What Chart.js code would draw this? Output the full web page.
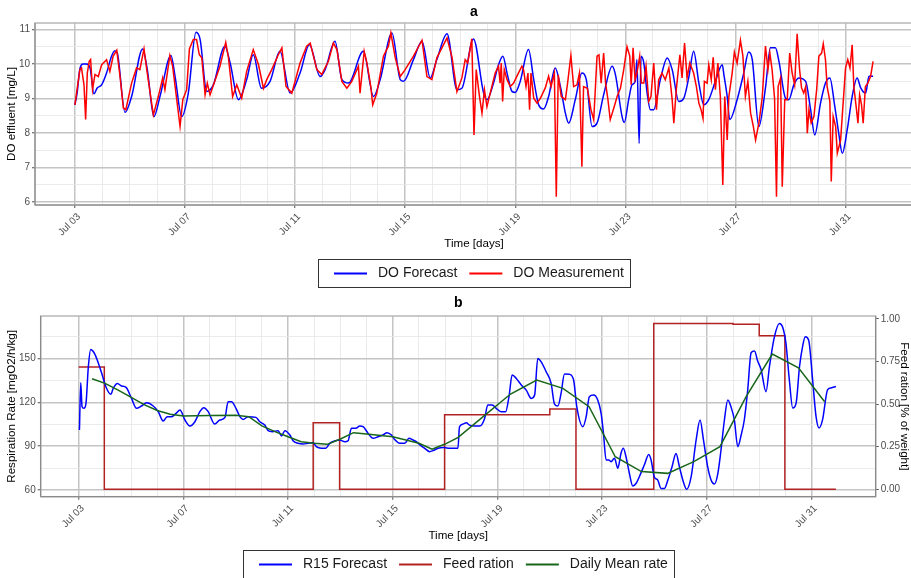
<!DOCTYPE html>
<html>
<head>
<meta charset="utf-8">
<script src="https://cdn.jsdelivr.net/npm/chart.js@4.4.1/dist/chart.umd.min.js"></script>
<style>
  html, body { margin: 0; padding: 0; background: #fff; width: 911px; height: 578px; overflow: hidden; }
  #wrapA { position: absolute; left: 0; top: 0; }
  #wrapB { position: absolute; left: 0; top: 290px; }
</style>
</head>
<body>
<div id="wrapA"><canvas id="chartA" width="913" height="290"></canvas></div>
<div id="wrapB"><canvas id="chartB" width="911" height="288"></canvas></div>
<script>
const FONT = '"Liberation Sans", Arial, Helvetica, sans-serif';

// time axis: days since Jul 03
const majorDays = [0, 4, 8, 12, 16, 20, 24, 28];
const majorLabels = ['Jul 03', 'Jul 07', 'Jul 11', 'Jul 15', 'Jul 19', 'Jul 23', 'Jul 27', 'Jul 31'];
const gridDays = [0, 1, 2, 3, 4, 5, 6, 7, 8, 9, 10, 11, 12, 13, 14, 15, 16, 17, 18, 19, 20, 21, 22, 23, 24, 25, 26, 27, 28];

// panel a: dissolved oxygen
const doTicks = [6, 7, 8, 9, 10, 11];
const doMinor = [6.5, 7.5, 8.5, 9.5, 10.5];

const forecastDays = [
  0.00, 0.08, 0.18, 0.30, 0.42, 0.55, 0.69, 0.81, 0.97, 1.15,
  1.33, 1.45, 1.54, 1.82, 2.06, 2.46, 2.63, 2.87, 3.09, 3.49,
  3.64, 3.88, 4.12, 4.40, 4.55, 4.79, 5.03, 5.45, 5.64, 5.94,
  6.24, 6.48, 6.78, 7.09, 7.45, 7.82, 8.18, 8.52, 8.91, 9.09,
  9.45, 9.70, 9.94, 10.48, 10.85, 11.09, 11.52, 11.82, 11.94, 12.30,
  12.61, 12.91, 13.15, 13.52, 13.88, 14.06, 14.48, 14.85, 14.97, 15.21,
  15.39, 15.55, 15.70, 15.88, 16.00, 16.18, 16.48, 16.67, 16.85, 17.03,
  17.21, 17.45, 17.64, 17.82, 17.94, 18.18, 18.42, 18.58, 18.79, 18.97,
  19.21, 19.52, 19.64, 19.88, 19.96, 20.12, 20.24, 20.36, 20.42, 20.50,
  20.57, 20.67, 20.79, 20.91, 21.03, 21.27, 21.52, 21.70, 21.94, 22.12,
  22.30, 22.48, 22.67, 22.85, 23.03, 23.27, 23.52, 23.58, 23.70, 23.79,
  24.06, 24.30, 24.48, 24.61, 24.85, 25.09, 25.27, 25.45, 25.58, 25.82,
  25.94, 26.12, 26.30, 26.55, 26.73, 26.88, 27.09, 27.27, 27.43, 27.60,
  27.76, 27.88, 28.06, 28.24, 28.42, 28.55, 28.73, 28.85, 29.00
];
const forecastDO = [
  8.82, 9.16, 9.86, 10.00, 10.00, 9.89, 9.14, 9.31, 9.40, 9.74,
  10.23, 10.39, 10.32, 8.60, 9.06, 10.44, 9.84, 8.48, 9.06, 10.25,
  9.64, 8.48, 9.16, 10.92, 10.71, 9.21, 9.40, 10.52, 10.03, 8.97,
  9.55, 10.27, 9.30, 9.50, 10.37, 9.16, 9.74, 10.56, 9.64, 9.84,
  10.66, 9.55, 9.45, 10.37, 9.06, 9.55, 10.90, 9.55, 9.50, 10.13,
  10.66, 9.60, 10.13, 10.88, 9.26, 9.30, 10.73, 9.16, 8.97, 9.45,
  9.98, 10.23, 9.74, 9.21, 9.18, 9.50, 10.42, 9.55, 8.82, 8.70,
  9.06, 9.89, 9.35, 8.58, 8.29, 8.97, 9.74, 9.55, 8.19, 8.29,
  9.11, 9.94, 9.69, 8.48, 8.31, 8.97, 9.40, 9.50, 10.13, 7.70,
  10.23, 10.03, 9.16, 8.68, 8.68, 9.55, 10.18, 9.84, 8.92, 9.01,
  9.60, 10.37, 9.45, 8.82, 8.97, 9.50, 9.98, 9.69, 9.06, 8.39,
  8.97, 9.74, 10.35, 10.13, 8.19, 9.31, 10.47, 10.47, 10.08, 9.01,
  8.97, 9.40, 9.60, 9.50, 8.68, 7.95, 8.87, 9.45, 9.60, 8.82,
  7.95, 7.42, 8.10, 9.06, 9.60, 9.31, 9.16, 9.65, 9.65
];

const measuredDays = [
  0.00, 0.06, 0.18, 0.24, 0.33, 0.39, 0.45, 0.52, 0.57, 0.64,
  0.73, 0.85, 0.97, 1.15, 1.27, 1.39, 1.52, 1.64, 1.76, 1.85,
  2.06, 2.24, 2.36, 2.51, 2.61, 2.85, 3.03, 3.19, 3.27, 3.45,
  3.55, 3.70, 3.82, 3.92, 4.06, 4.16, 4.30, 4.42, 4.52, 4.61,
  4.73, 4.81, 4.91, 5.27, 5.48, 5.58, 5.73, 5.88, 6.06, 6.24,
  6.48, 6.67, 6.85, 6.97, 7.15, 7.39, 7.52, 7.67, 7.88, 8.18,
  8.42, 8.55, 8.79, 8.97, 9.21, 9.39, 9.52, 9.70, 9.88, 10.06,
  10.30, 10.36, 10.51, 10.61, 10.75, 10.82, 10.97, 11.21, 11.39, 11.48,
  11.64, 11.82, 12.00, 12.30, 12.61, 12.79, 12.97, 13.15, 13.52, 13.70,
  13.88, 14.06, 14.18, 14.27, 14.42, 14.50, 14.58, 14.70, 14.79, 14.88,
  14.97, 15.09, 15.27, 15.39, 15.45, 15.49, 15.54, 15.60, 15.70, 15.82,
  15.94, 16.06, 16.24, 16.30, 16.39, 16.46, 16.52, 16.57, 16.67, 16.79,
  16.91, 17.09, 17.21, 17.30, 17.42, 17.49, 17.56, 17.67, 17.82, 17.90,
  18.02, 18.12, 18.24, 18.33, 18.42, 18.48, 18.62, 18.75, 18.85, 18.97,
  19.04, 19.12, 19.21, 19.28, 19.36, 19.45, 19.58, 19.70, 19.82, 19.94,
  20.06, 20.16, 20.21, 20.28, 20.35, 20.42, 20.52, 20.58, 20.67, 20.75,
  20.85, 20.93, 21.03, 21.13, 21.21, 21.33, 21.45, 21.58, 21.70, 21.76,
  21.85, 21.98, 22.06, 22.15, 22.24, 22.34, 22.48, 22.58, 22.67, 22.75,
  22.82, 22.87, 22.97, 23.03, 23.12, 23.19, 23.27, 23.36, 23.45, 23.54,
  23.61, 23.70, 23.76, 23.88, 23.96, 24.06, 24.18, 24.27, 24.36, 24.45,
  24.55, 24.65, 24.73, 24.85, 24.97, 25.09, 25.18, 25.25, 25.33, 25.42,
  25.49, 25.55, 25.64, 25.70, 25.79, 25.88, 25.97, 26.06, 26.15, 26.24,
  26.33, 26.40, 26.48, 26.55, 26.61, 26.67, 26.75, 26.85, 26.95, 27.03,
  27.13, 27.19, 27.27, 27.33, 27.43, 27.48, 27.55, 27.64, 27.70, 27.82,
  27.92, 28.00, 28.08, 28.16, 28.24, 28.30, 28.39, 28.45, 28.51, 28.58,
  28.64, 28.72, 28.81, 28.91, 29.00
];
const measuredDO = [
  8.82, 9.16, 9.84, 9.89, 9.40, 8.40, 9.74, 10.08, 10.13, 9.26,
  9.70, 9.64, 9.98, 10.13, 9.79, 10.23, 10.40, 9.64, 8.73, 8.68,
  9.45, 9.89, 9.84, 10.44, 9.84, 8.53, 9.06, 9.60, 9.26, 10.25,
  9.94, 8.97, 8.20, 8.97, 9.26, 10.44, 10.71, 10.71, 10.27, 10.18,
  9.11, 9.45, 9.11, 9.94, 10.63, 10.18, 9.06, 9.40, 9.01, 9.79,
  10.42, 9.98, 9.30, 9.55, 9.84, 10.27, 10.47, 9.35, 9.16, 10.03,
  10.52, 10.61, 9.84, 9.70, 10.08, 10.61, 10.42, 9.50, 9.30, 9.50,
  9.94, 9.16, 10.37, 10.03, 9.35, 8.82, 9.16, 10.23, 10.52, 10.90,
  10.18, 9.64, 9.84, 10.23, 10.69, 9.64, 9.55, 10.18, 10.76, 10.20,
  9.20, 9.60, 10.13, 10.03, 10.73, 7.95, 9.84, 9.06, 8.58, 9.26,
  8.77, 9.16, 9.74, 9.94, 9.45, 10.03, 8.92, 9.84, 9.55, 9.35,
  9.45, 9.65, 9.94, 9.84, 9.35, 9.74, 8.68, 9.74, 9.01, 8.87,
  9.01, 9.31, 9.65, 9.35, 9.74, 6.16, 9.69, 9.06, 8.97, 9.45,
  10.25, 9.35, 9.40, 9.74, 7.03, 9.35, 9.30, 8.68, 8.39, 10.23,
  10.27, 9.45, 10.32, 9.45, 9.01, 8.39, 8.73, 9.06, 9.30, 9.84,
  10.50, 10.23, 9.40, 10.47, 9.55, 9.74, 10.23, 9.45, 9.45, 9.94,
  8.92, 9.06, 10.03, 8.68, 9.55, 9.74, 9.55, 9.89, 8.97, 8.29,
  9.26, 10.27, 9.60, 10.61, 9.60, 10.03, 9.74, 9.35, 8.87, 8.68,
  8.43, 9.50, 9.45, 9.98, 9.55, 10.20, 9.26, 10.03, 9.06, 6.50,
  9.06, 7.80, 9.06, 9.74, 10.35, 10.03, 10.69, 10.23, 9.06, 9.50,
  8.58, 8.19, 7.80, 8.29, 9.01, 10.52, 9.84, 10.32, 9.84, 9.01,
  6.16, 9.35, 9.60, 6.45, 8.97, 8.97, 10.32, 9.74, 9.40, 10.88,
  9.84, 9.31, 9.16, 9.35, 8.00, 8.68, 8.29, 8.48, 9.26, 10.23,
  10.32, 10.59, 10.13, 9.35, 8.92, 6.60, 8.48, 8.19, 7.42, 7.80,
  8.97, 9.89, 10.13, 9.89, 10.56, 9.35, 8.73, 8.29, 9.11, 8.82,
  8.29, 9.35, 9.45, 9.65, 10.08
];

// panel b: respiration rate and feed ration
const rateTicks = [60, 90, 120, 150];
const rateMinor = [75, 105, 135, 165];
const feedTicks = [0, 0.25, 0.5, 0.75, 1];

const r15Days = [
  0.03, 0.08, 0.13, 0.20, 0.28, 0.37, 0.46, 0.59, 0.71, 0.88,
  1.04, 1.23, 1.32, 1.48, 1.64, 1.81, 2.02, 2.21, 2.40, 2.60,
  2.85, 3.04, 3.23, 3.38, 3.55, 3.72, 3.87, 4.06, 4.25, 4.44,
  4.63, 4.78, 4.95, 5.20, 5.39, 5.59, 5.71, 5.84, 6.01, 6.16,
  6.28, 6.48, 6.77, 6.92, 7.11, 7.24, 7.40, 7.62, 7.75, 7.88,
  8.07, 8.19, 8.38, 8.58, 8.77, 8.96, 9.08, 9.27, 9.44, 9.59,
  9.78, 9.97, 10.17, 10.29, 10.42, 10.59, 10.74, 10.87, 11.06, 11.25,
  11.44, 11.63, 11.78, 11.95, 12.07, 12.26, 12.46, 12.62, 12.77, 12.90,
  13.05, 13.22, 13.41, 13.54, 13.73, 13.92, 14.11, 14.36, 14.49, 14.55,
  14.68, 14.81, 14.93, 15.13, 15.32, 15.51, 15.63, 15.80, 15.95, 16.14,
  16.31, 16.44, 16.56, 16.72, 16.91, 17.10, 17.29, 17.42, 17.54, 17.67,
  17.86, 18.05, 18.18, 18.31, 18.43, 18.56, 18.75, 18.91, 19.03, 19.26,
  19.39, 19.51, 19.67, 19.83, 19.96, 20.05, 20.15, 20.25, 20.34, 20.47,
  20.60, 20.72, 20.81, 20.91, 21.04, 21.17, 21.30, 21.42, 21.61, 21.78,
  21.87, 21.99, 22.12, 22.25, 22.38, 22.51, 22.67, 22.82, 22.95, 23.08,
  23.23, 23.40, 23.59, 23.74, 23.87, 24.03, 24.16, 24.29, 24.41, 24.54,
  24.67, 24.80, 24.92, 25.05, 25.18, 25.31, 25.43, 25.56, 25.69, 25.82,
  25.94, 26.07, 26.26, 26.39, 26.58, 26.77, 26.89, 27.02, 27.15, 27.28,
  27.41, 27.54, 27.66, 27.76, 27.89, 28.04, 28.17, 28.29, 28.42, 28.61,
  28.74, 28.93
];
const r15Rate = [
  101.1, 133.6, 117.1, 116.0, 119.4, 144.5, 156.4, 154.1, 149.1, 140.0,
  130.8, 125.6, 129.7, 133.1, 131.3, 130.4, 122.8, 116.0, 117.6, 119.8,
  117.6, 113.7, 107.3, 110.3, 110.3, 112.5, 114.8, 108.0, 103.9, 106.8,
  113.7, 116.4, 113.7, 105.2, 108.0, 109.8, 120.5, 120.5, 116.0, 110.3,
  108.4, 110.3, 109.8, 106.8, 104.5, 100.7, 100.0, 100.7, 97.0, 100.7,
  97.7, 93.8, 92.0, 91.5, 92.0, 92.4, 89.7, 88.6, 88.6, 92.0,
  93.6, 94.3, 93.1, 93.6, 102.3, 102.3, 103.9, 103.4, 98.8, 95.4,
  96.5, 97.7, 99.3, 97.7, 94.7, 92.0, 92.0, 95.4, 94.3, 93.1,
  90.8, 88.6, 86.3, 87.0, 88.6, 89.2, 88.6, 88.6, 88.6, 103.4,
  105.2, 106.1, 104.5, 103.9, 103.9, 109.1, 118.3, 118.3, 116.0, 113.7,
  113.7, 124.0, 138.8, 136.5, 132.0, 128.5, 122.8, 125.1, 150.2, 147.9,
  141.1, 133.1, 118.9, 117.6, 126.2, 139.5, 139.3, 135.4, 117.1, 103.4,
  110.3, 124.0, 125.1, 121.7, 112.5, 98.8, 80.6, 80.6, 79.4, 81.7,
  74.9, 85.2, 88.6, 82.8, 71.4, 62.7, 64.6, 69.1, 77.1, 84.4,
  80.6, 69.1, 66.9, 61.1, 61.1, 66.9, 76.0, 85.1, 76.0, 66.9,
  60.5, 69.1, 94.3, 108.0, 94.3, 76.0, 66.9, 64.1, 70.3, 87.4,
  108.0, 121.7, 117.1, 108.0, 89.7, 97.7, 108.0, 128.5, 154.1, 155.3,
  148.4, 142.7, 127.4, 144.5, 165.0, 174.2, 171.9, 160.7, 135.6, 116.2,
  119.6, 144.7, 158.7, 165.0, 162.7, 135.6, 110.5, 102.5, 108.2, 128.7,
  130.0, 131.0
];

const meanDays = [
  0.51, 1.01, 1.51, 2.01, 2.50, 3.00, 3.50, 4.00, 5.00, 6.00,
  6.50, 7.00, 7.50, 8.00, 8.50, 9.00, 9.50, 10.00, 10.50, 11.00,
  12.00, 13.00, 13.50, 14.00, 14.50, 15.50, 16.50, 17.50, 18.50, 19.50,
  20.50, 21.50, 22.50, 23.50, 24.50, 25.50, 26.50, 27.50, 28.50
];
const meanRate = [
  136.3, 133.1, 128.5, 123.5, 118.5, 114.5, 112.0, 110.7, 111.0, 111.2,
  110.3, 104.0, 100.0, 96.5, 93.1, 92.0, 91.3, 95.0, 99.3, 98.4,
  96.5, 92.0, 88.0, 91.5, 96.1, 111.0, 125.8, 135.4, 129.7, 117.1,
  82.8, 72.6, 71.4, 79.4, 89.7, 124.0, 153.2, 143.8, 120.5
];

const feedDays = [0.00, 0.98, 8.96, 9.97, 13.98, 18.00, 19.00, 21.97, 25.00, 26.00, 26.98, 28.93];
const feedRation = [0.718, 0, 0.391, 0, 0.438, 0.472, 0, 0.973, 0.969, 0.902, 0, 0];

const xy = (xs, ys) => xs.map((x, i) => ({ x: x, y: ys[i] }));

// major / minor grid styling in the ggplot way
function gridStyle(majors) {
  const isMajor = c => c.tick && majors.includes(c.tick.value);
  return {
    color: c => isMajor(c) ? '#c4c4c4' : '#e6e6e6',
    lineWidth: c => isMajor(c) ? 1.5 : 0.8,
    tickColor: c => isMajor(c) ? '#4d4d4d' : 'rgba(0,0,0,0)',
    tickWidth: 1,
    tickLength: 3
  };
}

const tickFont = { family: FONT, size: 10 };
const titleFont = { family: FONT, size: 11.6 };

function timeAxis(height) {
  return {
    type: 'linear',
    min: -1.45,
    max: 30.45,
    afterBuildTicks: s => { s.ticks = gridDays.map(v => ({ value: v })); },
    afterFit: s => { s.height = height; },
    grid: gridStyle(majorDays),
    border: { display: false },
    ticks: {
      autoSkip: false, minRotation: 45, maxRotation: 45, padding: 3, labelOffset: 4,
      color: '#4d4d4d', font: tickFont,
      callback: v => { const i = majorDays.indexOf(v); return i < 0 ? '' : majorLabels[i]; }
    },
    title: { display: true, text: 'Time [days]', color: '#000', font: titleFont, padding: { top: 0, bottom: 4 } }
  };
}

// panel frame, panel letter and boxed legend
const panelDecor = {
  id: 'panelDecor',
  beforeDatasetsDraw(chart, args, o) {
    const { ctx, chartArea: a } = chart;
    ctx.save();
    ctx.strokeStyle = '#b8b8b8';
    ctx.lineWidth = 1.5;
    ctx.strokeRect(a.left, a.top, a.right - a.left, a.bottom - a.top);
    ctx.strokeStyle = '#808080';
    ctx.lineWidth = 1;
    ctx.beginPath();
    ctx.moveTo(a.left, a.top);
    ctx.lineTo(a.left, a.bottom);
    ctx.lineTo(a.right, a.bottom);
    if (o.rightAxis) ctx.lineTo(a.right, a.top);
    ctx.stroke();
    ctx.restore();
  },
  afterDraw(chart, args, o) {
    const { ctx, chartArea: a } = chart;
    const cx = (a.left + a.right) / 2;
    ctx.save();
    ctx.fillStyle = '#000';
    ctx.font = 'bold 14px ' + FONT;
    ctx.textAlign = 'center';
    ctx.textBaseline = 'middle';
    ctx.fillText(o.letter, cx, a.top - o.letterGap);

    ctx.font = '14px ' + FONT;
    const sets = chart.data.datasets;
    const widths = sets.map(d => ctx.measureText(d.label).width);
    const keyW = 33, gap = 11, sep = 12;
    const content = widths.reduce((s, w) => s + keyW + gap + w, 0) + sep * (sets.length - 1);
    const boxW = content + 22, boxH = 28;
    const boxL = Math.round(cx - boxW / 2), boxT = Math.round(chart.scales.x.bottom + 4);
    ctx.strokeStyle = '#333';
    ctx.lineWidth = 1;
    ctx.strokeRect(boxL + 0.5, boxT + 0.5, Math.round(boxW), boxH);
    let x = boxL + 16;
    const y = boxT + boxH / 2 + 0.5;
    sets.forEach((d, i) => {
      ctx.strokeStyle = d.borderColor;
      ctx.lineWidth = 2;
      ctx.beginPath();
      ctx.moveTo(x, y);
      ctx.lineTo(x + keyW, y);
      ctx.stroke();
      x += keyW + gap;
      ctx.fillStyle = '#1a1a1a';
      ctx.textAlign = 'left';
      ctx.fillText(d.label, x, y);
      x += widths[i] + sep;
    });
    ctx.restore();
  }
};

const lineDefaults = { pointRadius: 0, borderWidth: 1.5, tension: 0, fill: false };
const smooth = { cubicInterpolationMode: 'monotone' };

new Chart(document.getElementById('chartA'), {
  type: 'line',
  data: {
    datasets: [
      Object.assign({ label: 'DO Forecast', data: xy(forecastDays, forecastDO), borderColor: '#0000ff', order: 2 }, lineDefaults, smooth),
      Object.assign({ label: 'DO Measurement', data: xy(measuredDays, measuredDO), borderColor: '#ff0000', order: 1 }, lineDefaults)
    ]
  },
  options: {
    responsive: false,
    animation: false,
    devicePixelRatio: 1,
    layout: { padding: { top: 23, bottom: 35, left: 0, right: 0 } },
    plugins: {
      legend: { display: false },
      tooltip: { enabled: false },
      panelDecor: { letter: 'a', letterGap: 11, rightAxis: false }
    },
    scales: {
      x: timeAxis(50),
      y: {
        type: 'linear',
        min: 5.92,
        max: 11.19,
        afterBuildTicks: s => { s.ticks = doTicks.concat(doMinor).sort((p, q) => p - q).map(v => ({ value: v })); },
        afterFit: s => { s.width = 35; },
        grid: gridStyle(doTicks),
        border: { display: false },
        ticks: { padding: 2, color: '#4d4d4d', font: tickFont, callback: v => doTicks.includes(v) ? String(v) : '' },
        title: { display: true, text: 'DO effluent [mg/L]', color: '#000', font: titleFont, padding: { top: 5, bottom: 0 } }
      }
    }
  },
  plugins: [panelDecor]
});

new Chart(document.getElementById('chartB'), {
  type: 'line',
  data: {
    datasets: [
      Object.assign({ label: 'R15 Forecast', data: xy(r15Days, r15Rate), borderColor: '#0000ff', yAxisID: 'y', order: 2 }, lineDefaults, smooth),
      Object.assign({ label: 'Feed ration', data: xy(feedDays, feedRation), borderColor: '#b22222', yAxisID: 'y2', stepped: 'before', order: 3 }, lineDefaults),
      Object.assign({ label: 'Daily Mean rate', data: xy(meanDays, meanRate), borderColor: '#17661a', yAxisID: 'y', order: 1 }, lineDefaults)
    ]
  },
  options: {
    responsive: false,
    animation: false,
    devicePixelRatio: 1,
    layout: { padding: { top: 26, bottom: 31.6, left: 0, right: 0 } },
    plugins: {
      legend: { display: false },
      tooltip: { enabled: false },
      panelDecor: { letter: 'b', letterGap: 13, rightAxis: true }
    },
    scales: {
      x: timeAxis(49.7),
      y: {
        type: 'linear',
        position: 'left',
        min: 55.4,
        max: 179.3,
        afterBuildTicks: s => { s.ticks = rateTicks.concat(rateMinor).sort((p, q) => p - q).map(v => ({ value: v })); },
        afterFit: s => { s.width = 40.7; },
        grid: gridStyle(rateTicks),
        border: { display: false },
        ticks: { padding: 2, color: '#4d4d4d', font: tickFont, callback: v => rateTicks.includes(v) ? String(v) : '' },
        title: { display: true, text: 'Respiration Rate [mgO2/h/kg]', color: '#000', font: titleFont, padding: { top: 5, bottom: 0 } }
      },
      y2: {
        type: 'linear',
        position: 'right',
        min: -0.0435,
        max: 1.0176,
        afterBuildTicks: s => { s.ticks = feedTicks.map(v => ({ value: v })); },
        afterFit: s => { s.width = 35.3; },
        grid: { drawOnChartArea: false, tickLength: 3, tickColor: '#4d4d4d', tickWidth: 1 },
        border: { display: false },
        ticks: { padding: 2, color: '#4d4d4d', font: tickFont, callback: v => v.toFixed(2) },
        title: { display: true, text: 'Feed ration [% of weight]', color: '#000', font: titleFont, padding: { top: 0, bottom: 0 } }
      }
    }
  },
  plugins: [panelDecor]
});
</script>
</body>
</html>
